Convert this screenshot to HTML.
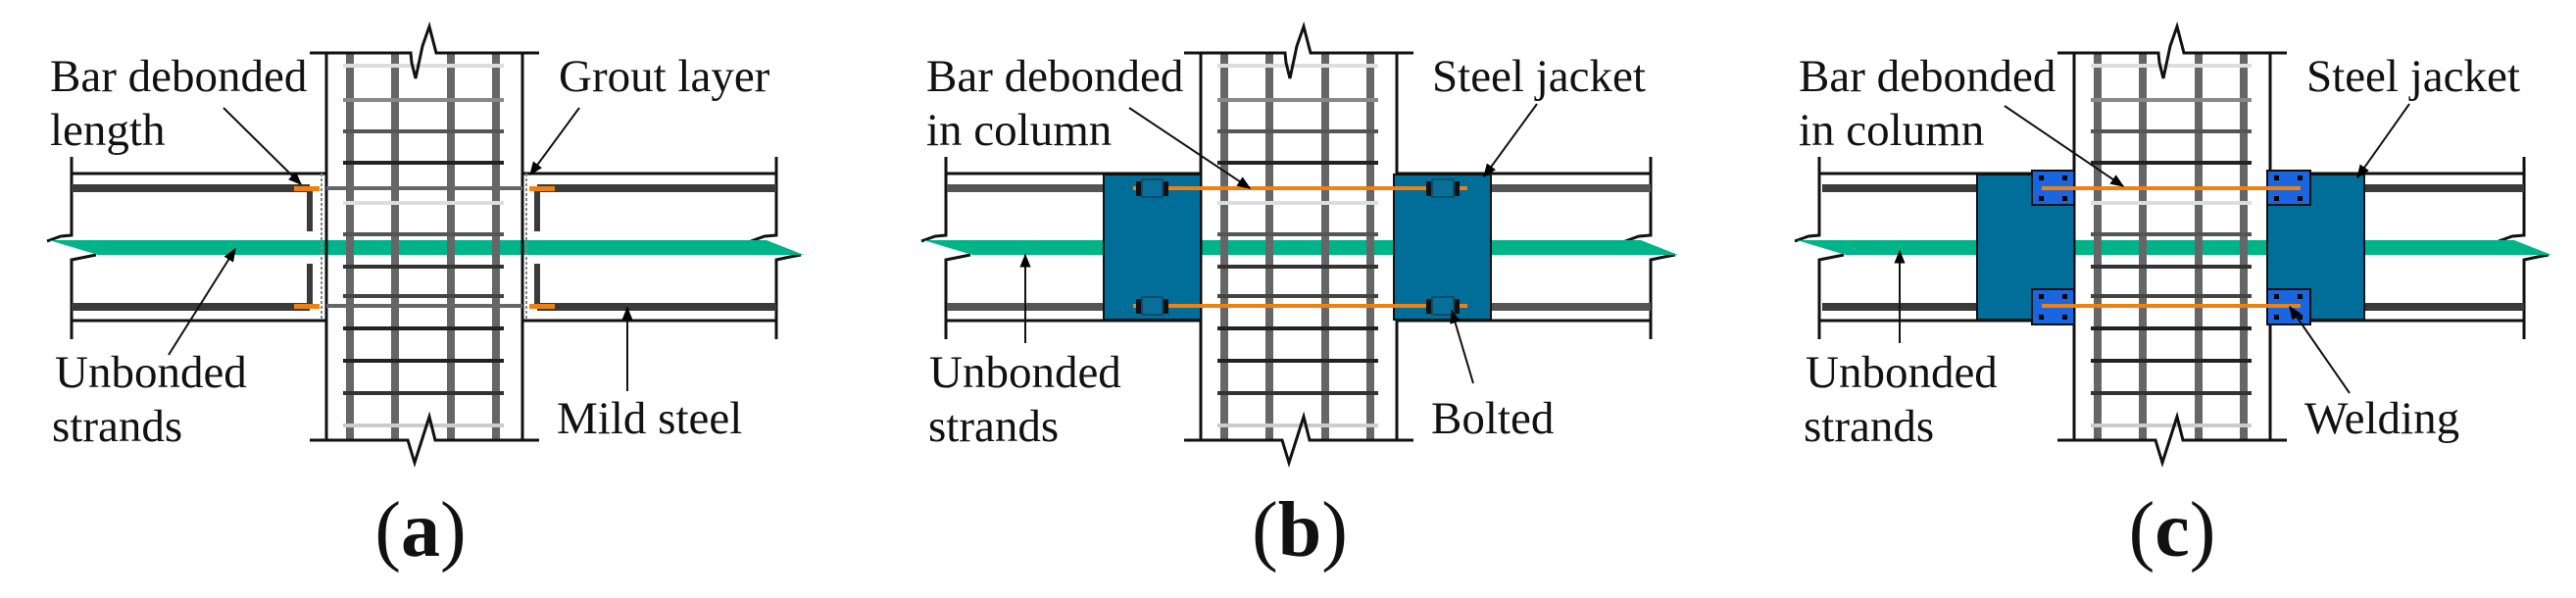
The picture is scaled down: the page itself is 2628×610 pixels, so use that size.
<!DOCTYPE html>
<html><head><meta charset="utf-8"><style>
html,body{margin:0;padding:0;background:#fff;}
svg{display:block;}
text{font-family:"Liberation Serif",serif;font-size:47px;fill:#111;}
.lbl{font-size:80px;}
</style></head><body>
<svg width="2628" height="610" viewBox="0 0 2628 610" xmlns="http://www.w3.org/2000/svg" font-family="Liberation Serif, serif">
<defs>
<marker id="ah" viewBox="0 0 10 10" refX="9" refY="5" markerWidth="14" markerHeight="14" markerUnits="userSpaceOnUse" orient="auto">
<path d="M0,1 L10,5 L0,9 z" fill="#000"/></marker>
<g id="base">
 <g stroke="#111" stroke-width="3" fill="none">
  <line x1="73" y1="177" x2="333" y2="177"/><line x1="73" y1="327" x2="333" y2="327"/>
  <line x1="533" y1="177" x2="792" y2="177"/><line x1="533" y1="327" x2="792" y2="327"/>
  <polyline points="73,160 73,240 62,241 48,246"/>
  <polyline points="98,260 88,262 73,265 73,346"/>
  <polyline points="792,160 792,240 780,241 766,246"/>
  <polyline points="817,260 806,262 792,265 792,346"/>
 </g>
 <polygon points="50,245 560,245 560,260 100,260" fill="#00b48a"/>
 <polygon points="533,245 782,245 820,260 533,260" fill="#00b48a"/>
 <g stroke="#666" stroke-width="8">
  <line x1="357" y1="55" x2="357" y2="449"/><line x1="403" y1="55" x2="403" y2="449"/>
  <line x1="460" y1="55" x2="460" y2="449"/><line x1="506" y1="55" x2="506" y2="449"/>
 </g>
 <g stroke-width="4">
  <line x1="350" y1="67" x2="514" y2="67" stroke="#ddd"/>
  <line x1="350" y1="102" x2="514" y2="102" stroke="#888"/>
  <line x1="350" y1="134" x2="514" y2="134" stroke="#555"/>
  <line x1="350" y1="166" x2="514" y2="166" stroke="#222"/>
  <line x1="350" y1="207" x2="514" y2="207" stroke="#ddd"/>
  <line x1="350" y1="239" x2="514" y2="239" stroke="#555"/>
  <line x1="350" y1="272" x2="514" y2="272" stroke="#333"/>
  <line x1="350" y1="302" x2="514" y2="302" stroke="#444"/>
  <line x1="350" y1="335" x2="514" y2="335" stroke="#222"/>
  <line x1="350" y1="368" x2="514" y2="368" stroke="#222"/>
  <line x1="350" y1="401" x2="514" y2="401" stroke="#333"/>
  <line x1="350" y1="434" x2="514" y2="434" stroke="#ccc"/>
 </g>
 <g stroke="#111" stroke-width="3" fill="none">
  <line x1="333" y1="55" x2="333" y2="449"/><line x1="533" y1="55" x2="533" y2="449"/>
  <polyline points="316,54 419,54 420,64 424,80 431,47 438,27 445,54 550,54"/>
  <polyline points="316,449 416,449 423,472 438,425 444,449 550,449"/>
 </g>
</g>
</defs>

<use href="#base"/>
<g stroke="#3a3a3a" stroke-width="8">
 <line x1="73" y1="192" x2="316" y2="192"/><line x1="73" y1="313" x2="316" y2="313"/>
 <line x1="548" y1="192" x2="792" y2="192"/><line x1="548" y1="313" x2="792" y2="313"/>
 <line x1="316" y1="194" x2="316" y2="236" stroke-width="6"/><line x1="316" y1="269" x2="316" y2="311" stroke-width="6"/>
 <line x1="548" y1="194" x2="548" y2="236" stroke-width="6"/><line x1="548" y1="269" x2="548" y2="311" stroke-width="6"/>
</g>
<g stroke="#666" stroke-width="4"><line x1="333" y1="192" x2="533" y2="192"/><line x1="333" y1="312" x2="533" y2="312"/></g>
<g fill="#f08010"><rect x="300" y="190" width="26" height="5"/><rect x="540" y="190" width="26" height="5"/><rect x="300" y="310" width="26" height="5"/><rect x="540" y="310" width="26" height="5"/></g>
<g stroke="#888" stroke-width="2" stroke-dasharray="3,2"><line x1="328" y1="177" x2="328" y2="327"/><line x1="537" y1="177" x2="537" y2="327"/></g>
<g stroke="#111" stroke-width="2" fill="none" marker-end="url(#ah)">
 <line x1="228" y1="110" x2="307" y2="188"/>
 <line x1="591" y1="110" x2="541" y2="178"/>
 <line x1="172" y1="362" x2="240" y2="254"/>
 <line x1="640" y1="399" x2="640" y2="314"/>
</g>
<text font-family="Liberation Serif, serif" x="51" y="93">Bar debonded</text>
<text font-family="Liberation Serif, serif" x="51" y="148">length</text>
<text font-family="Liberation Serif, serif" x="570" y="93">Grout layer</text>
<text font-family="Liberation Serif, serif" x="56" y="395">Unbonded</text>
<text font-family="Liberation Serif, serif" x="53" y="450">strands</text>
<text font-family="Liberation Serif, serif" x="568" y="442">Mild steel</text>
<text font-family="Liberation Serif, serif" class="lbl" x="429" y="567" text-anchor="middle">(<tspan font-weight="bold">a</tspan>)</text>

<use href="#base" transform="translate(892,0)"/>
<g stroke="#555" stroke-width="8">
 <line x1="966" y1="192" x2="1130" y2="192"/><line x1="966" y1="313" x2="1130" y2="313"/>
 <line x1="1520" y1="192" x2="1684" y2="192"/><line x1="1520" y1="313" x2="1684" y2="313"/>
</g>
<g fill="#006e98" stroke="#111" stroke-width="2">
 <rect x="1126" y="178" width="99" height="148"/><rect x="1422" y="178" width="99" height="148"/>
</g>
<g stroke="#f08010" stroke-width="4"><line x1="1156" y1="192" x2="1497" y2="192"/><line x1="1156" y1="312" x2="1497" y2="312"/></g>
<g fill="#111"><rect x="1159" y="185" width="6" height="15"/><rect x="1186" y="185" width="6" height="15"/><rect x="1455" y="185" width="6" height="15"/><rect x="1483" y="185" width="6" height="15"/>
<rect x="1159" y="305" width="6" height="15"/><rect x="1186" y="305" width="6" height="15"/><rect x="1455" y="305" width="6" height="15"/><rect x="1483" y="305" width="6" height="15"/></g>
<g fill="#0a6f98" stroke="#0b4d6e" stroke-width="2"><rect x="1165" y="183" width="21" height="18"/><rect x="1461" y="183" width="22" height="18"/><rect x="1165" y="303" width="21" height="18"/><rect x="1461" y="303" width="22" height="18"/></g>
<g stroke="#111" stroke-width="2" fill="none" marker-end="url(#ah)">
 <line x1="1152" y1="110" x2="1275" y2="192"/>
 <line x1="1568" y1="106" x2="1514" y2="180"/>
 <line x1="1046" y1="350" x2="1046" y2="260"/>
 <line x1="1503" y1="391" x2="1481" y2="317"/>
</g>
<text font-family="Liberation Serif, serif" x="945" y="93">Bar debonded</text>
<text font-family="Liberation Serif, serif" x="945" y="148">in column</text>
<text font-family="Liberation Serif, serif" x="1461" y="93">Steel jacket</text>
<text font-family="Liberation Serif, serif" x="948" y="395">Unbonded</text>
<text font-family="Liberation Serif, serif" x="947" y="450">strands</text>
<text font-family="Liberation Serif, serif" x="1460" y="442">Bolted</text>
<text font-family="Liberation Serif, serif" class="lbl" x="1326" y="567" text-anchor="middle">(<tspan font-weight="bold">b</tspan>)</text>

<use href="#base" transform="translate(1783,0)"/>
<g stroke="#3a3a3a" stroke-width="8">
 <line x1="1859" y1="192" x2="2020" y2="192"/><line x1="1859" y1="313" x2="2020" y2="313"/>
 <line x1="2410" y1="192" x2="2575" y2="192"/><line x1="2410" y1="313" x2="2575" y2="313"/>
</g>
<g fill="#006e98" stroke="#111" stroke-width="2">
 <rect x="2017" y="178" width="99" height="148"/><rect x="2313" y="178" width="99" height="148"/>
</g>
<g fill="#1a66e0" stroke="#111" stroke-width="2">
 <rect x="2073" y="174" width="43" height="35"/><rect x="2073" y="295" width="43" height="36"/>
 <rect x="2313" y="174" width="44" height="35"/><rect x="2313" y="295" width="44" height="36"/>
</g>
<g fill="#000">
 <rect x="2080" y="179" width="5" height="5"/><rect x="2104" y="179" width="5" height="5"/><rect x="2080" y="200" width="5" height="5"/><rect x="2104" y="200" width="5" height="5"/>
 <rect x="2080" y="300" width="5" height="5"/><rect x="2104" y="300" width="5" height="5"/><rect x="2080" y="321" width="5" height="5"/><rect x="2104" y="321" width="5" height="5"/>
 <rect x="2320" y="179" width="5" height="5"/><rect x="2344" y="179" width="5" height="5"/><rect x="2320" y="200" width="5" height="5"/><rect x="2344" y="200" width="5" height="5"/>
 <rect x="2320" y="300" width="5" height="5"/><rect x="2344" y="300" width="5" height="5"/><rect x="2320" y="321" width="5" height="5"/><rect x="2344" y="321" width="5" height="5"/>
</g>
<g stroke="#f08010" stroke-width="4"><line x1="2083" y1="192" x2="2347" y2="192"/><line x1="2083" y1="312" x2="2347" y2="312"/></g>
<g stroke="#111" stroke-width="2" fill="none" marker-end="url(#ah)">
 <line x1="2045" y1="108" x2="2166" y2="190"/>
 <line x1="2458" y1="106" x2="2405" y2="181"/>
 <line x1="1938" y1="350" x2="1938" y2="256"/>
 <line x1="2397" y1="401" x2="2336" y2="313"/>
</g>
<text font-family="Liberation Serif, serif" x="1835" y="93">Bar debonded</text>
<text font-family="Liberation Serif, serif" x="1835" y="148">in column</text>
<text font-family="Liberation Serif, serif" x="2353" y="93">Steel jacket</text>
<text font-family="Liberation Serif, serif" x="1842" y="395">Unbonded</text>
<text font-family="Liberation Serif, serif" x="1840" y="450">strands</text>
<text font-family="Liberation Serif, serif" x="2351" y="442">Welding</text>
<text font-family="Liberation Serif, serif" class="lbl" x="2216" y="567" text-anchor="middle">(<tspan font-weight="bold">c</tspan>)</text>
</svg>
</body></html>
